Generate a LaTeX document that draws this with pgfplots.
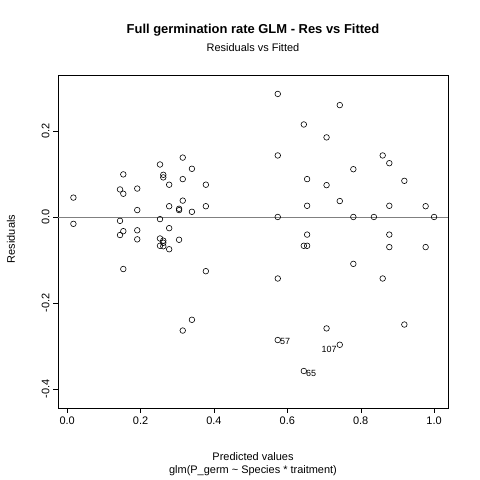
\documentclass[border=0pt]{standalone}
\usepackage{pgfplots}
\pgfplotsset{compat=1.18}
\usepackage{fontspec}
\setmainfont{Liberation Sans}
\usetikzlibrary{calc}
\begin{document}
\begin{tikzpicture}[x=1bp,y=1bp]
\begin{axis}[name=ax, at={(58bp,72bp)}, anchor=south west,
 scale only axis, width=390bp, height=333bp,
 xmin=-0.025, xmax=1.038, ymin=-0.444, ymax=0.330,
 axis line style={black}, tick style={black},
 xtick={0,0.2,0.4,0.6,0.8,1}, xticklabels={0.0,0.2,0.4,0.6,0.8,1.0},
 ytick={-0.4,-0.2,0,0.2}, yticklabels={-0.4,-0.2,0.0,0.2},
 yticklabel style={rotate=90, anchor=south},
 tick align=outside, major tick length=5bp,
 ticklabel style={font=\fontsize{11}{12}\selectfont},
 xtick pos=bottom, ytick pos=left,
 /pgf/number format/assume math mode=true,
 clip=false]
\addplot[gray, thin, forget plot] coordinates {(-0.025,0) (1.038,0)};
\addplot[only marks, mark=o, mark size=2.8bp, black, mark options={line width=0.6pt}] coordinates {
(.017,.045)(.017,-.016)(.153,.099)(.144,.064)(.153,.054)(.191,.066)(.191,.016)(.144,-.009)
(.153,-.033)(.144,-.042)(.191,-.031)(.191,-.052)(.153,-.121)(.253,.122)(.262,.098)(.262,.092)
(.278,.075)(.315,.138)(.340,.112)(.315,.088)(.378,.075)(.315,.038)(.278,.025)(.305,.019)
(.305,.016)(.340,.012)(.378,.025)(.253,-.005)(.278,-.026)(.253,-.050)(.262,-.055)(.253,-.067)
(.262,-.068)(.262,-.060)(.278,-.075)(.305,-.053)(.378,-.126)(.340,-.239)(.315,-.264)
(.574,.286)(.743,.260)(.645,.215)(.707,.185)(.574,.143)(.860,.143)(.878,.125)(.780,.111)
(.919,.084)(.654,.088)(.707,.074)(.743,.037)(.654,.026)(.878,.026)(.977,.025)(.574,0)
(.780,0)(.836,0)(1.0,0)(.654,-.041)(.878,-.041)(.645,-.067)(.654,-.067)(.878,-.070)
(.977,-.070)(.780,-.109)(.574,-.143)(.860,-.143)(.919,-.250)(.707,-.259)(.574,-.286)
(.743,-.297)(.645,-.358)};
\node[anchor=west, inner sep=0pt, font=\fontsize{9}{10}\selectfont] at (axis cs:.580,-.289) {57};
\node[anchor=east, inner sep=0pt, font=\fontsize{9}{10}\selectfont] at (axis cs:.735,-.307) {107};
\node[anchor=west, inner sep=0pt, font=\fontsize{9}{10}\selectfont] at (axis cs:.651,-.363) {65};
\end{axis}
\pgfresetboundingbox
\path[use as bounding box] (0,0) rectangle (480,480);
\node[font=\bfseries\fontsize{13}{14}\selectfont] at (253,450) {Full germination rate GLM - Res vs Fitted};
\node[font=\fontsize{11}{12}\selectfont] at (253,432) {Residuals vs Fitted};
\node[font=\fontsize{11}{12}\selectfont] at (253,23) {Predicted values};
\node[font=\fontsize{11}{12}\selectfont] at (253,9) {glm(P\_germ \textasciitilde{} Species * traitment)};
\node[font=\fontsize{11}{12}\selectfont, rotate=90] at (11,241) {Residuals};
\end{tikzpicture}
\end{document}
